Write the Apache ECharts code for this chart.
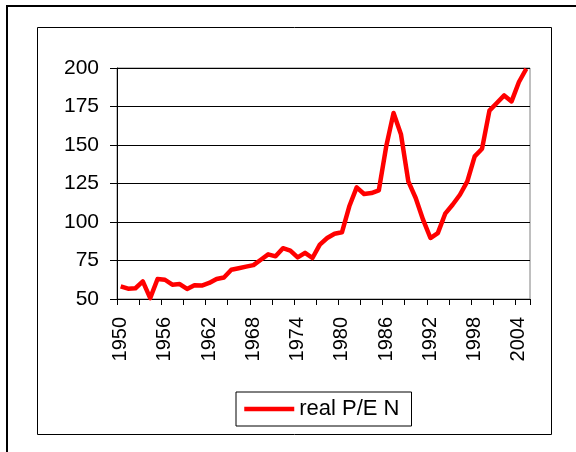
<!DOCTYPE html>
<html>
<head>
<meta charset="utf-8">
<script src="https://cdn.jsdelivr.net/npm/echarts@6/dist/echarts.min.js"></script>
<style>
html,body{margin:0;padding:0;background:#fff;}
#c{width:576px;height:452px;}
</style>
</head>
<body>
<div id="c"></div>
<script>
const years = [];
for (let y = 1950; y <= 2005; y++) years.push(String(y));
const seriesName = 'real P/E N';
const peValues = [
  58.2, 56.7, 57.0, 61.4, 50.6, 63.0, 62.5, 59.3, 59.7, 56.5,
  59.0, 58.7, 60.4, 63.0, 64.0, 69.0, 70.0, 71.0, 72.0, 75.5,
  79.0, 77.7, 83.0, 81.4, 77.0, 80.0, 76.6, 85.3, 89.6, 92.4,
  93.3, 110.2, 122.5, 118.2, 118.8, 120.5, 149.0, 170.8, 157.0, 126.4,
  115.6, 101.5, 89.6, 92.8, 105.4, 111.2, 117.7, 126.4, 142.6, 147.6,
  172.3, 177.3, 182.2, 178.3, 190.9, 199.5
];
const yMin = 50, yMax = 200, yStep = 25;

const chart = echarts.init(document.getElementById('c'), null, {renderer: 'canvas'});
const font = '"Liberation Sans", Arial, sans-serif';
chart.setOption({
  animation: false,
  backgroundColor: '#fff',
  graphic: [
    {type: 'rect', shape: {x: 7, y: 6, width: 620, height: 500}, style: {fill: 'none', stroke: '#000', lineWidth: 2}, z: 0},
    {type: 'rect', shape: {x: 37.5, y: 27.5, width: 514, height: 407}, style: {fill: 'none', stroke: '#000', lineWidth: 1}, z: 0}
  ],
  grid: {left: 117, top: 68, right: 46, bottom: 153, show: true, borderColor: '#808080', borderWidth: 1, backgroundColor: 'transparent'},
  xAxis: {
    type: 'category',
    data: years,
    boundaryGap: true,
    axisLine: {lineStyle: {color: '#000', width: 1}},
    axisTick: {show: true, interval: 2, length: 6, inside: false, lineStyle: {color: '#000'}},
    axisLabel: {interval: 5, rotate: 90, margin: 18, fontSize: 20, color: '#000', fontFamily: font},
    splitLine: {show: false}
  },
  yAxis: {
    type: 'value',
    min: yMin, max: yMax, interval: yStep,
    axisLine: {show: true, lineStyle: {color: '#000', width: 1}},
    axisTick: {show: true, length: 7, lineStyle: {color: '#000'}},
    axisLabel: {margin: 18, fontSize: 21, color: '#000', fontFamily: font},
    splitLine: {show: true, lineStyle: {color: '#000', width: 1}}
  },
  legend: {
    data: [seriesName],
    left: 236, top: 392,
    borderColor: '#000', borderWidth: 1,
    padding: [6, 12, 6, 6],
    itemWidth: 50, itemHeight: 14, itemGap: 6,
    textStyle: {fontSize: 22, color: '#000', fontFamily: font},
    itemStyle: {opacity: 0},
    lineStyle: {width: 4.5, color: '#ff0000'}
  },
  series: [{
    name: seriesName,
    type: 'line',
    data: peValues,
    symbol: 'none',
    showSymbol: false,
    lineStyle: {color: '#ff0000', width: 4.5, join: 'round'},
    itemStyle: {color: '#ff0000'}
  }]
});
</script>
</body>
</html>
